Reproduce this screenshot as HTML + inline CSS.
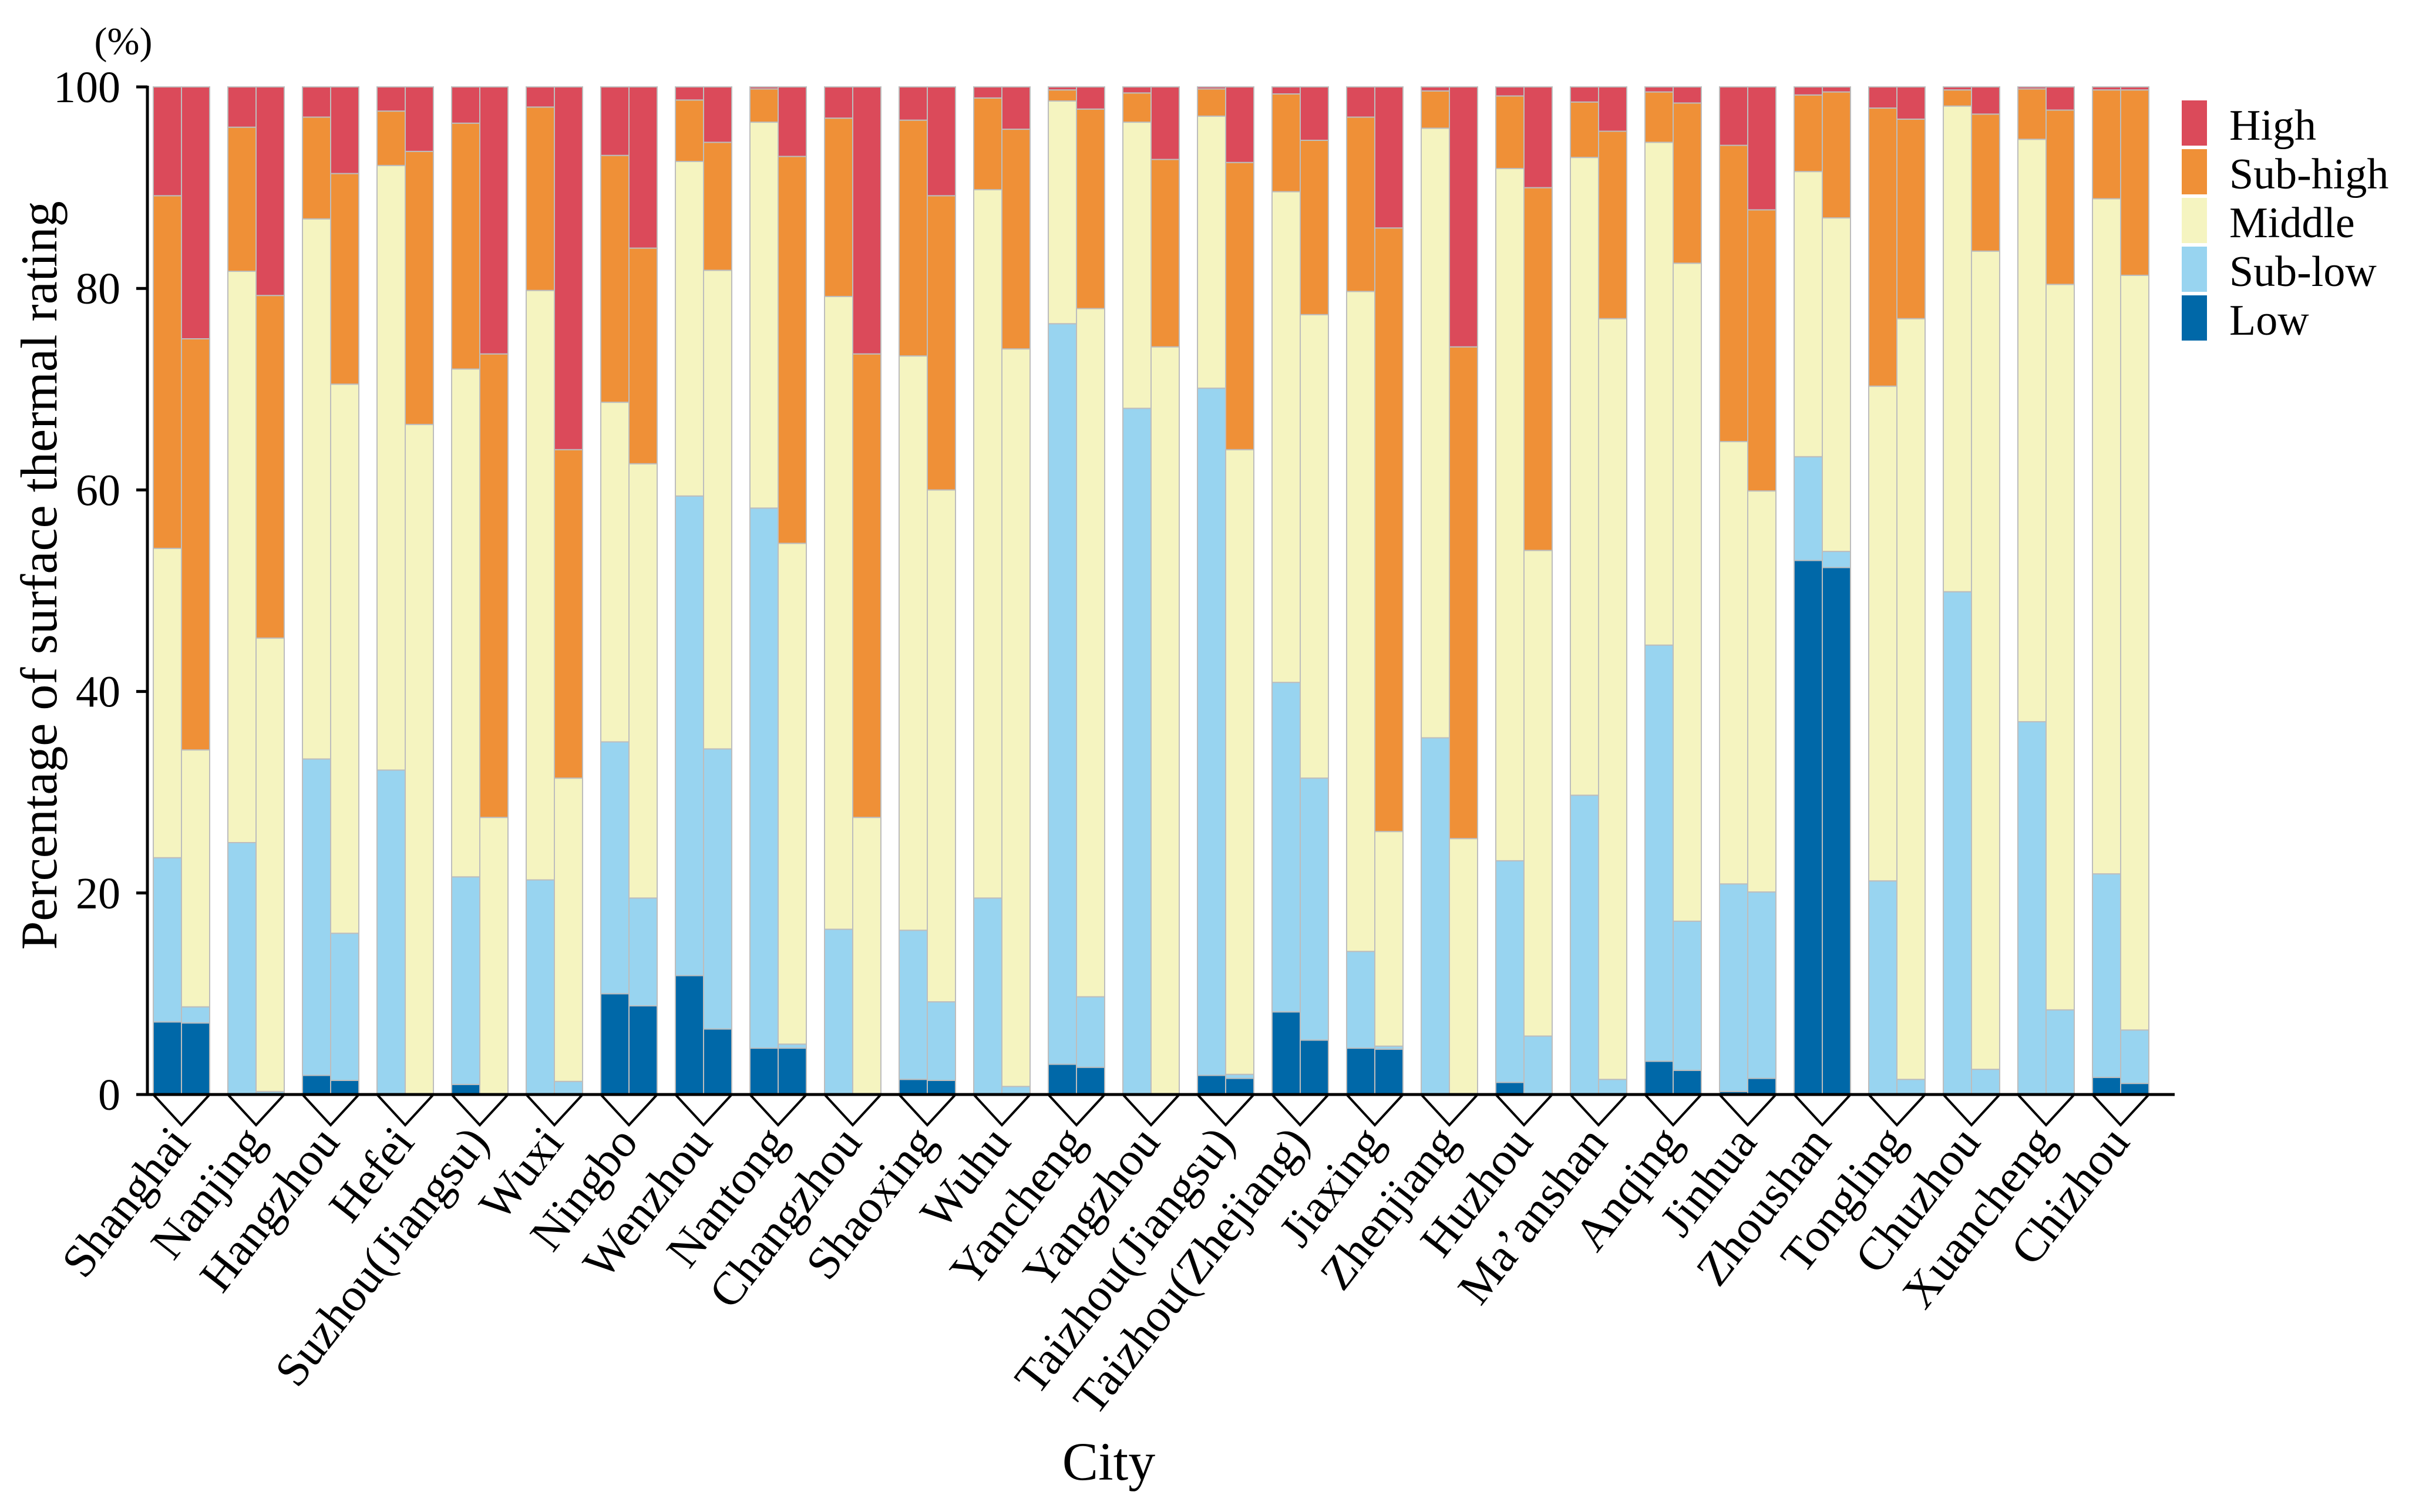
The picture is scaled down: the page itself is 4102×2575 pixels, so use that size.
<!DOCTYPE html>
<html><head><meta charset="utf-8"><style>
html,body{margin:0;padding:0;background:#fff}
svg{display:block}
text{font-family:"Liberation Serif",serif;fill:#000}
</style></head><body>
<svg id="chart" width="4102" height="2575" viewBox="0 0 4102 2575" xmlns="http://www.w3.org/2000/svg">
<g id="bars"></g>
<g id="axes"></g>
<g id="legend"></g>
</svg>
<script>
const cities = ["Shanghai","Nanjing","Hangzhou","Hefei","Suzhou(Jiangsu)","Wuxi","Ningbo","Wenzhou","Nantong","Changzhou","Shaoxing","Wuhu","Yancheng","Yangzhou","Taizhou(Jiangsu)","Taizhou(Zhejiang)","Jiaxing","Zhenjiang","Huzhou","Ma\u2019anshan","Anqing","Jinhua","Zhoushan","Tongling","Chuzhou","Xuancheng","Chizhou"];
// cumulative tops per class, two bars per city (A,B)
const lowTop = [7.2,7.1, 0,0, 1.9,1.4, 0,0, 1.0,0, 0,0, 10.0,8.8, 11.8,6.5, 4.6,4.6, 0,0, 1.5,1.4, 0,0, 3.0,2.7, 0,0, 1.9,1.6, 8.2,5.4, 4.6,4.5, 0,0, 1.2,0, 0,0, 3.3,2.4, 0.3,1.6, 53.0,52.3, 0,0, 0,0, 0,0, 1.7,1.1];
const subLowTop = [23.5,8.7, 25,0.3, 33.3,16.0, 32.2,0, 21.6,0, 21.3,1.3, 35.0,19.5, 59.4,34.3, 58.2,5.0, 16.4,0, 16.3,9.2, 19.5,0.8, 76.5,9.7, 68.1,0, 70.1,2.0, 40.9,31.4, 14.2,4.8, 35.4,0, 23.2,5.8, 29.7,1.5, 44.6,17.2, 20.9,20.1, 63.3,53.9, 21.2,1.5, 49.9,2.5, 37.0,8.4, 21.9,6.4];
const middleTop = [54.2,34.2, 81.7,45.3, 86.9,70.5, 92.2,66.5, 72.0,27.5, 79.8,31.4, 68.7,62.6, 92.6,81.8, 96.5,54.7, 79.2,27.5, 73.3,60.0, 89.8,74.0, 98.6,78.0, 96.5,74.2, 97.1,64.0, 89.6,77.4, 79.7,26.1, 95.9,25.4, 91.9,54.0, 93.0,77.0, 94.5,82.5, 64.8,59.9, 91.6,87.0, 70.3,77.0, 98.1,83.7, 94.8,80.4, 88.9,81.3];
const subHighTop = [89.2,75.0, 96,79.3, 97.0,91.4, 97.6,93.6, 96.4,73.5, 98.0,64.0, 93.2,84.0, 98.7,94.5, 99.8,93.1, 96.9,73.5, 96.7,89.2, 98.9,95.8, 99.7,97.8, 99.4,92.8, 99.8,92.5, 99.3,94.7, 97.0,86.0, 99.6,74.2, 99.1,90.0, 98.5,95.6, 99.5,98.4, 94.2,87.8, 99.2,99.5, 97.9,96.8, 99.7,97.3, 99.8,97.7, 99.7,99.7];
const highTop = cities.flatMap(()=>[100,100]);
const yTicks = [0,20,40,60,80,100];
const seriesNames = ["High","Sub-high","Middle","Sub-low","Low"];
const colors = {"High":"#DB4A5A","Sub-high":"#EF9037","Middle":"#F5F4C0","Sub-low":"#98D4F0","Low":"#0068A8"};

const NS="http://www.w3.org/2000/svg";
const X0=261, PITCH=127, BW=48, Y0=1864, Y100=148;
const y = v => Y0 - (v/100)*(Y0-Y100);
const xBar = i => X0 + Math.floor(i/2)*PITCH + (i%2)*BW;
function mk(tag, attrs, parent){const e=document.createElementNS(NS,tag);for(const k in attrs)e.setAttribute(k,attrs[k]);parent.appendChild(e);return e;}
const bars=document.getElementById('bars'), axes=document.getElementById('axes'), legend=document.getElementById('legend');
const layers=[["Low",null,lowTop],["Sub-low",lowTop,subLowTop],["Middle",subLowTop,middleTop],["Sub-high",middleTop,subHighTop],["High",subHighTop,highTop]];
for(let i=0;i<lowTop.length;i++){
  layers.forEach(([name,bot,top])=>{
    const b = bot?bot[i]:0, t=top[i];
    if(t-b<=0) return;
    const r=mk('rect',{x:xBar(i),y:y(t),width:BW,height:y(b)-y(t),fill:colors[name],stroke:"#bdbdbd","stroke-width":2},bars);
    
    
  });
}
// axes
let l=mk('line',{x1:251,y1:Y100-2,x2:251,y2:Y0,stroke:"#000","stroke-width":5},axes);


l=mk('line',{x1:232,y1:Y0,x2:3703,y2:Y0,stroke:"#000","stroke-width":5},axes);


yTicks.forEach(v=>{
  const t=mk('line',{x1:232,y1:y(v),x2:251,y2:y(v),stroke:"#000","stroke-width":5},axes);
  
  
  const tx=mk('text',{x:205,y:y(v)+26,"text-anchor":"end","font-size":76},axes);
  tx.textContent=v;
  
  
});
cities.forEach((c,k)=>{
  const gx=X0+k*PITCH, cx=gx+BW;
  const p=mk('polyline',{points:`${gx},${Y0} ${cx},${Y0+52} ${gx+2*BW},${Y0}`,fill:"none",stroke:"#000","stroke-width":4},axes);
  
  
  const t=mk('text',{x:cx+18,y:Y0+82,"text-anchor":"end","font-size":80,transform:`rotate(-52 ${cx+18} ${Y0+82})`},axes);
  t.textContent=c;
  
  
});
let t=mk('text',{x:210,y:92,"text-anchor":"middle","font-size":66},axes);
t.textContent="(%)";


t=mk('text',{x:96,y:980,"text-anchor":"middle","font-size":88,transform:"rotate(-90 96 980)"},axes);
t.textContent="Percentage of surface thermal rating";


t=mk('text',{x:1888,y:2520,"text-anchor":"middle","font-size":92},axes);
t.textContent="City";


seriesNames.forEach((n,k)=>{
  const g=mk('g',{},legend);
  
  
  mk('rect',{x:3715,y:171+k*83,width:43,height:77,fill:colors[n]},g);
  const tx=mk('text',{x:3796,y:238+k*83,"font-size":74},g);
  tx.textContent=n;
});
</script>
</body></html>
